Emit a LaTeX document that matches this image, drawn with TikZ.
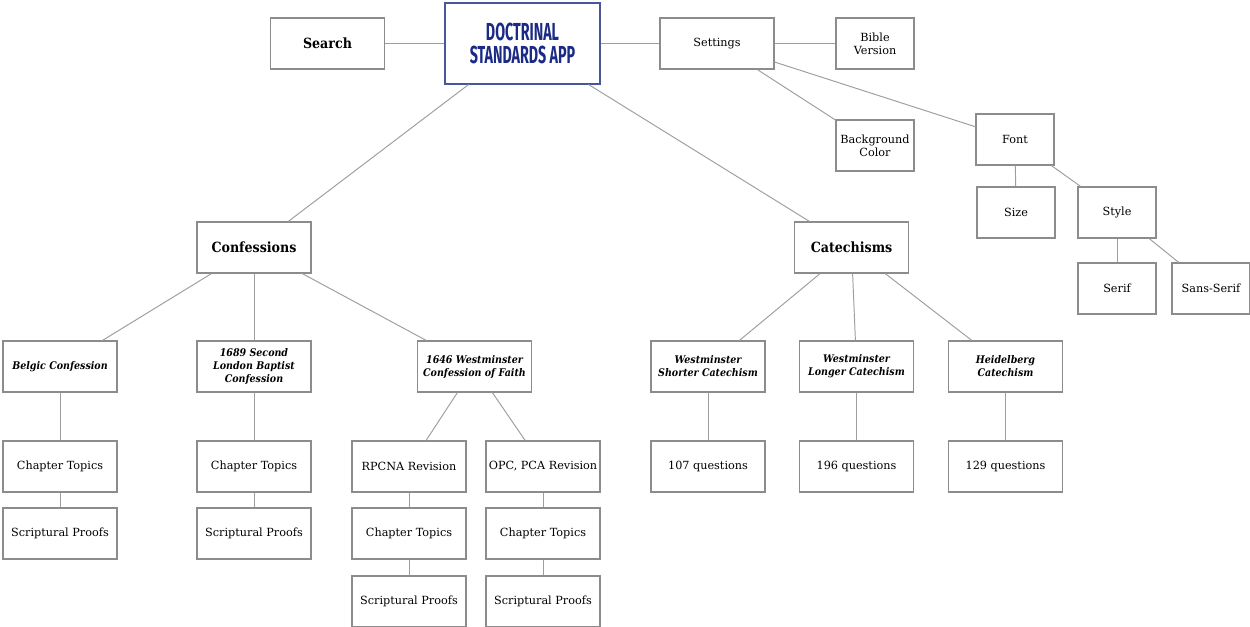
\documentclass[tikz,border=0pt]{standalone}
\usepackage{fontspec}
\setmainfont{DejaVu Serif}
\newfontfamily\titlefont[FakeStretch=0.58]{Fira Sans}
\newfontfamily\narrowfont[FakeStretch=0.9]{DejaVu Serif}
\definecolor{boxgray}{HTML}{8C8C8C}
\definecolor{linegray}{HTML}{9E9E9E}
\definecolor{appblue}{HTML}{1B2A84}
\tikzset{
  box/.style={draw=boxgray, line width=0.6pt, minimum width=2.28cm, minimum height=1.02cm,
    inner sep=0pt, align=center, font=\fontsize{6.4}{7.6}\selectfont},
  smallbox/.style={box, minimum width=1.56cm},
  headbox/.style={box, font=\narrowfont\fontsize{8}{9.6}\selectfont\bfseries},
  docbox/.style={box, font=\narrowfont\fontsize{6}{7.4}\selectfont\bfseries\itshape},
  link/.style={draw=linegray, line width=0.55pt}
}
\begin{document}
\begin{tikzpicture}[x=0.02cm, y=-0.02cm]
        \useasboundingbox (0,0) rectangle (1250,626);

        % top row
        \node[headbox] (search) at (327.5,43.5) {Search};
        \node[box, draw=appblue!80, minimum width=3.1cm, minimum height=1.62cm,
              text=appblue, font=\titlefont\bfseries\fontsize{14}{13.5}\selectfont] (app) at (522.5,43.5) {DOCTRINAL\\STANDARDS APP};
        \node[box] (settings) at (717,43.5) {Settings};
        \node[smallbox] (bible) at (875,43.5) {Bible\\Version};
        \node[smallbox] (bg) at (875,145.5) {Background\\Color};
        \node[smallbox] (font) at (1015,139.5) {Font};
        \node[smallbox] (size) at (1016,212.5) {Size};
        \node[smallbox] (style) at (1117,212.5) {Style};
        \node[smallbox] (serif) at (1117,288.5) {Serif};
        \node[smallbox] (sans) at (1211,288.5) {Sans-Serif};

        % main branches
        \node[headbox] (conf) at (254,247.5) {Confessions};
        \node[headbox] (cat) at (851.5,247.5) {Catechisms};

        \node[docbox] (belgic) at (60,366.5) {Belgic Confession};
        \node[docbox] (lbc) at (254,366.5) {1689 Second\\London Baptist\\Confession};
        \node[docbox] (wcf) at (474.5,366.5) {1646 Westminster\\Confession of Faith};
        \node[docbox] (wsc) at (708,366.5) {Westminster\\Shorter Catechism};
        \node[docbox] (wlc) at (856.5,366.5) {Westminster\\Longer Catechism};
        \node[docbox] (hc) at (1005.5,366.5) {Heidelberg\\Catechism};

        \node[box] (ct1) at (60,466.5) {Chapter Topics};
        \node[box] (sp1) at (60,533.5) {Scriptural Proofs};
        \node[box] (ct2) at (254,466.5) {Chapter Topics};
        \node[box] (sp2) at (254,533.5) {Scriptural Proofs};
        \node[box] (rp) at (409,466.5) {RPCNA Revision};
        \node[box] (opc) at (543,466.5) {OPC, PCA Revision};
        \node[box] (ct3) at (409,533.5) {Chapter Topics};
        \node[box] (ct4) at (543,533.5) {Chapter Topics};
        \node[box] (sp3) at (409,601.5) {Scriptural Proofs};
        \node[box] (sp4) at (543,601.5) {Scriptural Proofs};
        \node[box] (q107) at (708,466.5) {107 questions};
        \node[box] (q196) at (856.5,466.5) {196 questions};
        \node[box] (q129) at (1005.5,466.5) {129 questions};

        % connectors
        \draw[link] (search) -- (app);
        \draw[link] (app) -- (settings);
        \draw[link] (settings) -- (bible);
        \draw[link] (settings) -- (bg);
        \draw[link] (settings) -- (font);
        \draw[link] (font) -- (size);
        \draw[link] (font) -- (style);
        \draw[link] (style) -- (serif);
        \draw[link] (style) -- (sans);

        \draw[link] (app) -- (conf);
        \draw[link] (app) -- (cat);
        \draw[link] (conf) -- (belgic);
        \draw[link] (conf) -- (lbc);
        \draw[link] (conf) -- (wcf);
        \draw[link] (cat) -- (wsc);
        \draw[link] (cat) -- (wlc);
        \draw[link] (cat) -- (hc);

        \draw[link] (belgic) -- (ct1);
        \draw[link] (ct1) -- (sp1);
        \draw[link] (lbc) -- (ct2);
        \draw[link] (ct2) -- (sp2);
        \draw[link] (wcf) -- (rp);
        \draw[link] (wcf) -- (opc);
        \draw[link] (rp) -- (ct3);
        \draw[link] (ct3) -- (sp3);
        \draw[link] (opc) -- (ct4);
        \draw[link] (ct4) -- (sp4);
        \draw[link] (wsc) -- (q107);
        \draw[link] (wlc) -- (q196);
        \draw[link] (hc) -- (q129);

    \end{tikzpicture}
\end{document}
